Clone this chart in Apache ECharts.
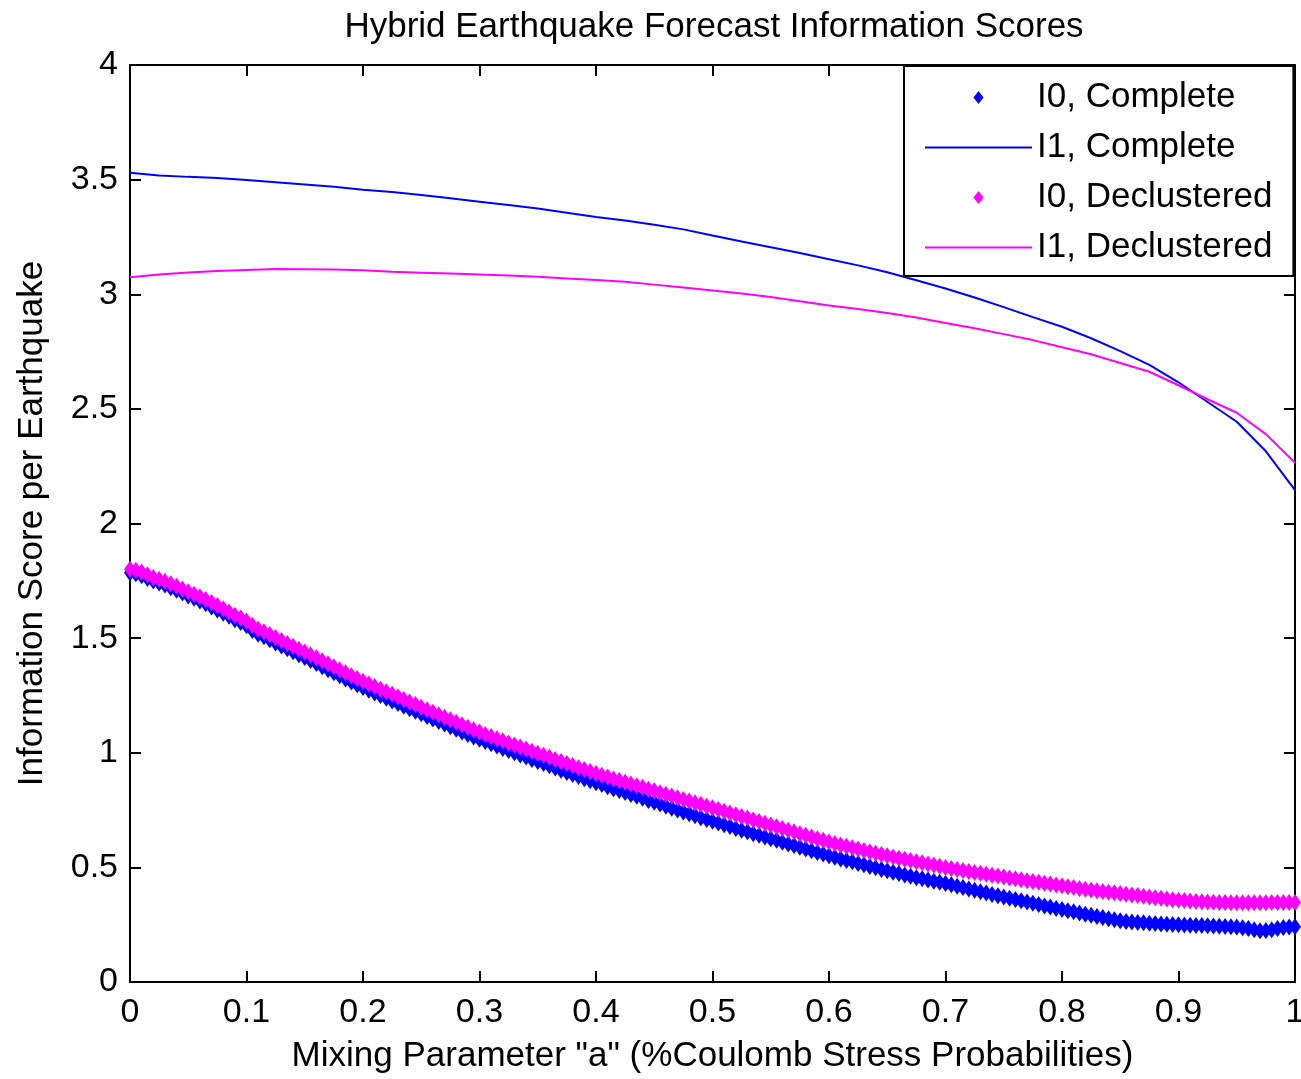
<!DOCTYPE html>
<html>
<head>
<meta charset="utf-8">
<title>Hybrid Earthquake Forecast Information Scores</title>
<script src="https://cdn.jsdelivr.net/npm/echarts@6/dist/echarts.min.js"></script>
<style>
  html, body { margin: 0; padding: 0; background: #fff; }
  #main { width: 1301px; height: 1079px; }
</style>
</head>
<body>
<div id="main"></div>
<script>
// mixing parameter "a" for the I0 scores (step 0.005)
var mixingFine = [
  0.000, 0.005, 0.010, 0.015, 0.020, 0.025, 0.030, 0.035, 0.040, 0.045,
  0.050, 0.055, 0.060, 0.065, 0.070, 0.075, 0.080, 0.085, 0.090, 0.095,
  0.100, 0.105, 0.110, 0.115, 0.120, 0.125, 0.130, 0.135, 0.140, 0.145,
  0.150, 0.155, 0.160, 0.165, 0.170, 0.175, 0.180, 0.185, 0.190, 0.195,
  0.200, 0.205, 0.210, 0.215, 0.220, 0.225, 0.230, 0.235, 0.240, 0.245,
  0.250, 0.255, 0.260, 0.265, 0.270, 0.275, 0.280, 0.285, 0.290, 0.295,
  0.300, 0.305, 0.310, 0.315, 0.320, 0.325, 0.330, 0.335, 0.340, 0.345,
  0.350, 0.355, 0.360, 0.365, 0.370, 0.375, 0.380, 0.385, 0.390, 0.395,
  0.400, 0.405, 0.410, 0.415, 0.420, 0.425, 0.430, 0.435, 0.440, 0.445,
  0.450, 0.455, 0.460, 0.465, 0.470, 0.475, 0.480, 0.485, 0.490, 0.495,
  0.500, 0.505, 0.510, 0.515, 0.520, 0.525, 0.530, 0.535, 0.540, 0.545,
  0.550, 0.555, 0.560, 0.565, 0.570, 0.575, 0.580, 0.585, 0.590, 0.595,
  0.600, 0.605, 0.610, 0.615, 0.620, 0.625, 0.630, 0.635, 0.640, 0.645,
  0.650, 0.655, 0.660, 0.665, 0.670, 0.675, 0.680, 0.685, 0.690, 0.695,
  0.700, 0.705, 0.710, 0.715, 0.720, 0.725, 0.730, 0.735, 0.740, 0.745,
  0.750, 0.755, 0.760, 0.765, 0.770, 0.775, 0.780, 0.785, 0.790, 0.795,
  0.800, 0.805, 0.810, 0.815, 0.820, 0.825, 0.830, 0.835, 0.840, 0.845,
  0.850, 0.855, 0.860, 0.865, 0.870, 0.875, 0.880, 0.885, 0.890, 0.895,
  0.900, 0.905, 0.910, 0.915, 0.920, 0.925, 0.930, 0.935, 0.940, 0.945,
  0.950, 0.955, 0.960, 0.965, 0.970, 0.975, 0.980, 0.985, 0.990, 0.995,
  1.000
];

var i0Complete = [
  1.785, 1.781, 1.772, 1.760, 1.749, 1.741, 1.732, 1.720, 1.709, 1.697,
  1.684, 1.674, 1.662, 1.650, 1.636, 1.623, 1.608, 1.595, 1.580, 1.568,
  1.554, 1.533, 1.517, 1.506, 1.493, 1.479, 1.466, 1.454, 1.441, 1.428,
  1.415, 1.402, 1.389, 1.375, 1.362, 1.349, 1.336, 1.322, 1.309, 1.297,
  1.285, 1.273, 1.261, 1.250, 1.238, 1.226, 1.215, 1.203, 1.192, 1.181,
  1.170, 1.158, 1.147, 1.136, 1.125, 1.113, 1.102, 1.091, 1.080, 1.069,
  1.059, 1.049, 1.039, 1.029, 1.019, 1.010, 1.000, 0.990, 0.981, 0.971,
  0.962, 0.953, 0.943, 0.934, 0.924, 0.914, 0.905, 0.896, 0.887, 0.878,
  0.869, 0.861, 0.852, 0.843, 0.835, 0.827, 0.818, 0.810, 0.801, 0.792,
  0.784, 0.776, 0.767, 0.758, 0.750, 0.742, 0.734, 0.725, 0.717, 0.709,
  0.701, 0.694, 0.686, 0.678, 0.670, 0.662, 0.655, 0.647, 0.640, 0.632,
  0.625, 0.618, 0.610, 0.602, 0.595, 0.588, 0.580, 0.572, 0.565, 0.558,
  0.551, 0.544, 0.537, 0.530, 0.524, 0.517, 0.511, 0.504, 0.498, 0.491,
  0.485, 0.479, 0.473, 0.467, 0.461, 0.455, 0.450, 0.445, 0.440, 0.435,
  0.430, 0.424, 0.418, 0.412, 0.406, 0.400, 0.394, 0.388, 0.382, 0.376,
  0.371, 0.365, 0.360, 0.354, 0.349, 0.343, 0.338, 0.332, 0.327, 0.321,
  0.316, 0.311, 0.306, 0.301, 0.296, 0.291, 0.286, 0.281, 0.276, 0.271,
  0.267, 0.264, 0.262, 0.260, 0.258, 0.256, 0.255, 0.253, 0.252, 0.251,
  0.250, 0.249, 0.248, 0.247, 0.246, 0.245, 0.244, 0.243, 0.242, 0.241,
  0.240, 0.237, 0.233, 0.228, 0.224, 0.225, 0.228, 0.233, 0.238, 0.240,
  0.241
];

var i0Declustered = [
  1.800, 1.796, 1.788, 1.776, 1.764, 1.757, 1.748, 1.737, 1.726, 1.714,
  1.702, 1.691, 1.680, 1.668, 1.655, 1.642, 1.628, 1.614, 1.600, 1.588,
  1.575, 1.556, 1.540, 1.528, 1.516, 1.503, 1.490, 1.477, 1.465, 1.452,
  1.440, 1.427, 1.414, 1.401, 1.388, 1.375, 1.362, 1.349, 1.336, 1.324,
  1.312, 1.300, 1.289, 1.277, 1.266, 1.255, 1.244, 1.232, 1.221, 1.210,
  1.199, 1.188, 1.177, 1.166, 1.155, 1.144, 1.133, 1.122, 1.111, 1.100,
  1.090, 1.080, 1.071, 1.061, 1.052, 1.043, 1.034, 1.025, 1.016, 1.007,
  0.998, 0.989, 0.980, 0.971, 0.962, 0.953, 0.944, 0.935, 0.927, 0.918,
  0.910, 0.902, 0.894, 0.886, 0.879, 0.871, 0.864, 0.856, 0.849, 0.841,
  0.834, 0.826, 0.819, 0.811, 0.804, 0.796, 0.789, 0.782, 0.775, 0.767,
  0.760, 0.752, 0.745, 0.737, 0.730, 0.722, 0.715, 0.707, 0.700, 0.692,
  0.685, 0.677, 0.670, 0.662, 0.655, 0.647, 0.640, 0.632, 0.625, 0.618,
  0.611, 0.604, 0.598, 0.592, 0.586, 0.580, 0.574, 0.568, 0.562, 0.556,
  0.551, 0.545, 0.540, 0.535, 0.530, 0.525, 0.520, 0.515, 0.510, 0.505,
  0.500, 0.495, 0.491, 0.486, 0.482, 0.478, 0.474, 0.470, 0.466, 0.462,
  0.458, 0.454, 0.450, 0.446, 0.442, 0.438, 0.435, 0.431, 0.427, 0.423,
  0.420, 0.416, 0.412, 0.408, 0.405, 0.401, 0.398, 0.395, 0.392, 0.389,
  0.386, 0.383, 0.380, 0.377, 0.374, 0.371, 0.368, 0.365, 0.362, 0.359,
  0.357, 0.355, 0.353, 0.351, 0.350, 0.349, 0.348, 0.347, 0.347, 0.346,
  0.346, 0.346, 0.346, 0.346, 0.346, 0.346, 0.347, 0.347, 0.347, 0.347,
  0.347
];

// mixing parameter "a" for the I1 curves
var mixingCoarse = [
  0.000, 0.025, 0.050, 0.075, 0.100, 0.125, 0.150, 0.175, 0.200, 0.225,
  0.250, 0.275, 0.300, 0.325, 0.350, 0.375, 0.400, 0.425, 0.450, 0.475,
  0.500, 0.525, 0.550, 0.575, 0.600, 0.625, 0.650, 0.675, 0.700, 0.725,
  0.750, 0.775, 0.800, 0.825, 0.850, 0.875, 0.900, 0.925, 0.950, 0.975,
  1.000
];

var i1Complete = [
  3.530, 3.518, 3.512, 3.507, 3.498, 3.489, 3.479, 3.469, 3.456, 3.446,
  3.433, 3.419, 3.404, 3.389, 3.374, 3.356, 3.337, 3.322, 3.303, 3.283,
  3.256, 3.230, 3.205, 3.180, 3.153, 3.126, 3.096, 3.061, 3.025, 2.986,
  2.944, 2.900, 2.858, 2.808, 2.752, 2.692, 2.616, 2.530, 2.444, 2.315,
  2.146
];

var i1Declustered = [
  3.074, 3.086, 3.095, 3.101, 3.106, 3.110, 3.109, 3.108, 3.105, 3.098,
  3.094, 3.090, 3.086, 3.082, 3.076, 3.069, 3.062, 3.054, 3.042, 3.029,
  3.016, 3.003, 2.988, 2.969, 2.951, 2.936, 2.918, 2.899, 2.875, 2.852,
  2.826, 2.800, 2.769, 2.738, 2.700, 2.662, 2.603, 2.542, 2.483, 2.390,
  2.265
];

var legendNames = ['I0, Complete', 'I1, Complete', 'I0, Declustered', 'I1, Declustered'];

function pairs(xs, ys) {
  return xs.map(function (x, i) { return [x, ys[i]]; });
}

var myChart = echarts.init(document.getElementById('main'));

var fontName = 'Liberation Sans';
var black = '#000000';
var diamondIcon = 'path://M5,0 L10,6.5 L5,13 L0,6.5 Z';
var lineIcon = 'path://M0,0 L107,0 L107,2 L0,2 Z';

// inward ticks, the same on all four sides of the box
function boxAxis(extra) {
  var base = {
    type: 'value',
    axisLine: { show: true, onZero: false, lineStyle: { color: black, width: 2 } },
    axisTick: { show: true, inside: true, length: 11, lineStyle: { color: black, width: 2 } },
    splitLine: { show: false }
  };
  for (var k in extra) base[k] = extra[k];
  return base;
}

option = {
  animation: false,
  backgroundColor: '#ffffff',
  title: {
    text: 'Hybrid Earthquake Forecast Information Scores',
    left: 709,
    textAlign: 'center',
    top: 5,
    textStyle: {
      fontFamily: fontName,
      fontSize: 35,
      fontWeight: 'normal',
      color: black
    }
  },
  legend: {
    orient: 'vertical',
    left: 904,
    top: 66,
    padding: [14, 21, 11, 21],
    itemWidth: 107,
    itemHeight: 13,
    itemGap: 15,
    itemTextGap: 12,
    symbolKeepAspect: true,
    selectedMode: false,
    backgroundColor: '#ffffff',
    borderColor: black,
    borderWidth: 2,
    borderRadius: 0,
    z: 10,
    textStyle: {
      fontFamily: fontName,
      fontSize: 35,
      lineHeight: 34,
      color: black
    },
    data: [
      { name: legendNames[0], icon: diamondIcon },
      { name: legendNames[1], icon: lineIcon },
      { name: legendNames[2], icon: diamondIcon },
      { name: legendNames[3], icon: lineIcon }
    ]
  },
  grid: {
    left: 130,
    right: 6,
    top: 65,
    bottom: 97,
    containLabel: false,
    outerBoundsMode: 'none'
  },
  xAxis: [
    boxAxis({
      min: 0, max: 1, interval: 0.1,
      position: 'bottom',
      name: 'Mixing Parameter "a" (%Coulomb Stress Probabilities)',
      nameLocation: 'middle',
      nameGap: 57,
      nameTextStyle: { fontFamily: fontName, fontSize: 35, color: black },
      axisLabel: { fontFamily: fontName, fontSize: 34, color: black, margin: 14 }
    }),
    boxAxis({
      min: 0, max: 1, interval: 0.1,
      position: 'top',
      axisLabel: { show: false }
    })
  ],
  yAxis: [
    boxAxis({
      min: 0, max: 4, interval: 0.5,
      position: 'left',
      name: 'Information Score per Earthquake',
      nameLocation: 'middle',
      nameRotate: 90,
      nameGap: 80,
      nameTextStyle: { fontFamily: fontName, fontSize: 35, color: black },
      axisLabel: { fontFamily: fontName, fontSize: 34, color: black, margin: 12 }
    }),
    boxAxis({
      min: 0, max: 4, interval: 0.5,
      position: 'right',
      axisLabel: { show: false }
    })
  ],
  series: [
    {
      name: legendNames[0],
      type: 'scatter',
      symbol: 'diamond',
      symbolSize: [12, 17],
      itemStyle: { color: '#0000ff', opacity: 1 },
      data: pairs(mixingFine, i0Complete),
      z: 2
    },
    {
      name: legendNames[1],
      type: 'line',
      symbol: 'none',
      xAxisIndex: 1,
      yAxisIndex: 1,
      lineStyle: { color: '#0000ff', width: 2 },
      itemStyle: { color: '#0000ff' },
      data: pairs(mixingCoarse, i1Complete),
      z: 3
    },
    {
      name: legendNames[2],
      type: 'scatter',
      symbol: 'diamond',
      symbolSize: [12, 17],
      itemStyle: { color: '#ff00ff', opacity: 1 },
      data: pairs(mixingFine, i0Declustered),
      z: 4
    },
    {
      name: legendNames[3],
      type: 'line',
      symbol: 'none',
      xAxisIndex: 1,
      yAxisIndex: 1,
      lineStyle: { color: '#ff00ff', width: 2 },
      itemStyle: { color: '#ff00ff' },
      data: pairs(mixingCoarse, i1Declustered),
      z: 5
    }
  ]
};

myChart.setOption(option);
</script>
</body>
</html>
